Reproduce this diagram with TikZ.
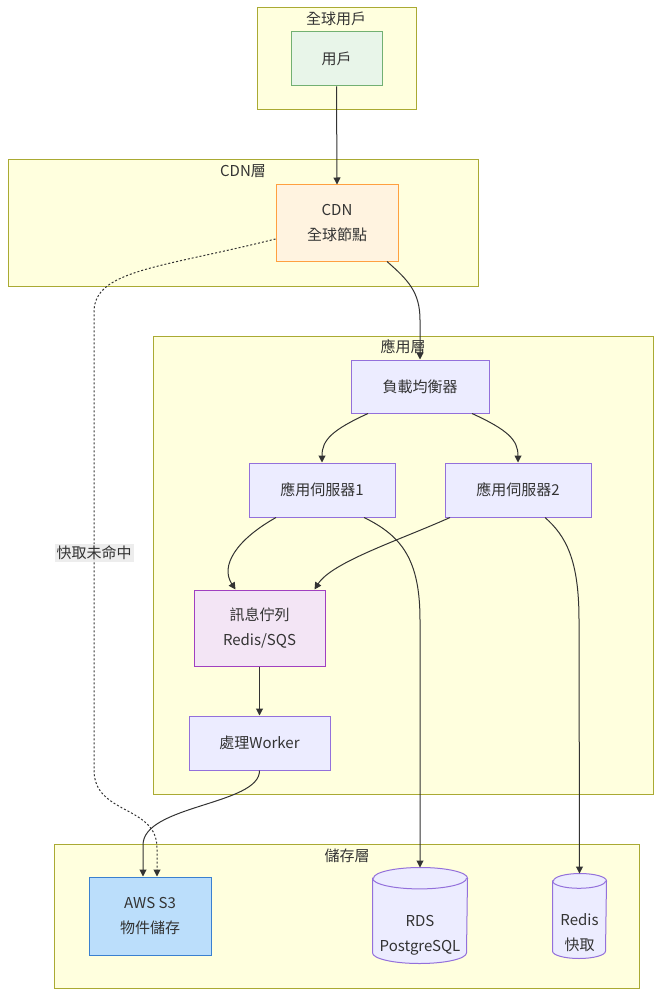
\documentclass[tikz,border=0pt]{standalone}
\usepackage{fontspec}
\setmainfont{Noto Sans CJK TC}
\usepackage{xcolor}
\usetikzlibrary{arrows.meta}

\definecolor{clusterfill}{HTML}{FFFFDE}
\definecolor{clusterline}{HTML}{AAAA33}
\definecolor{nodefill}{HTML}{ECECFF}
\definecolor{nodeline}{HTML}{9370DB}
\definecolor{txt}{HTML}{333333}
\definecolor{userfill}{HTML}{E8F5E9}
\definecolor{userline}{HTML}{72B072}
\definecolor{cdnfill}{HTML}{FFF3E0}
\definecolor{cdnline}{HTML}{FFA040}
\definecolor{mqfill}{HTML}{F3E5F5}
\definecolor{mqline}{HTML}{A040C0}
\definecolor{sthreefill}{HTML}{BBDEFB}
\definecolor{sthreeline}{HTML}{3A80D0}
\definecolor{labelfill}{HTML}{E8E8E8}

% cylinder outline round a named node: name, half width, ry
\newcommand{\dbdraw}[3]{%
  \filldraw[dbline] ([yshift=-#3pt]#1.north west) -- ([yshift=#3pt]#1.south west)
    arc[start angle=180, end angle=360, x radius=#2pt, y radius=#3pt]
    -- ([yshift=-#3pt]#1.north east)
    arc[start angle=0, end angle=180, x radius=#2pt, y radius=#3pt] -- cycle;
  \draw[dbline, fill=none] ([yshift=-#3pt]#1.north west)
    arc[start angle=180, end angle=360, x radius=#2pt, y radius=#3pt];
}

\begin{document}
\begin{tikzpicture}[x=1pt,y=-1pt,->,>={Triangle[length=7pt,width=7pt]},line width=1pt,txt]
  \tikzstyle{cluster}=[draw=clusterline,fill=clusterfill,line width=1pt,-]
  \tikzstyle{title}=[inner sep=0pt,text=txt,font=\fontsize{15}{18}\selectfont]
  \tikzstyle{box}=[rectangle,draw=nodeline,fill=nodefill,line width=1pt,inner sep=0pt,
    align=center,text=txt,font=\fontsize{15}{25}\selectfont]
  \tikzstyle{db}=[rectangle,draw=none,inner sep=0pt]
  \tikzstyle{dbline}=[draw=nodeline,fill=nodefill,line width=1pt,-]
  \tikzstyle{dbtxt}=[inner sep=0pt,align=center,text=txt,yshift=-10pt,
    font=\fontsize{15}{25}\selectfont]
  \tikzstyle{flow}=[draw=txt,line width=1pt]
  \tikzstyle{miss}=[draw=txt,line width=1pt,dash pattern=on 2pt off 2pt]
  \tikzstyle{edgelabel}=[fill=labelfill,fill opacity=0.8,text opacity=1,inner sep=2pt,
    text=txt,font=\fontsize{15}{18}\selectfont]

  \useasboundingbox (0,0) rectangle (669,1008);

  % clusters
  \draw[cluster] (257,8) rectangle (416,110);
  \draw[cluster] (8,160) rectangle (478,286);
  \draw[cluster] (153,336) rectangle (653,794);
  \draw[cluster] (54,844) rectangle (639,988);

  \node[title] (tglobal) at (336,19) {全球用戶};
  \node[title] (tcdn) at (243,171) {CDN層};
  \node[title] (tapp) at (403,347) {應用層};
  \node[title] (tstore) at (347,856) {儲存層};

  % nodes
  \node[box,fill=userfill,draw=userline,minimum width=91pt,minimum height=54pt] (user) at (336.5,59) {用戶};
  \node[box,fill=cdnfill,draw=cdnline,minimum width=122pt,minimum height=76pt] (cdn) at (337,223) {CDN\\全球節點};
  \node[box,minimum width=138pt,minimum height=53pt] (lb) at (420,386.5) {負載均衡器};
  \node[box,minimum width=146pt,minimum height=54pt] (app1) at (322,490) {應用伺服器1};
  \node[box,minimum width=146pt,minimum height=54pt] (app2) at (518,490) {應用伺服器2};
  \node[box,fill=mqfill,draw=mqline,minimum width=131pt,minimum height=76pt] (mq) at (259.5,628) {訊息佇列\\Redis/SQS};
  \node[box,minimum width=141pt,minimum height=54pt] (worker) at (259.5,743) {處理Worker};
  \node[box,fill=sthreefill,draw=sthreeline,minimum width=122pt,minimum height=78pt] (s3) at (150,916) {AWS S3\\物件儲存};
  \node[db,minimum width=94pt,minimum height=95pt] (rds) at (420,915.5) {};
  \node[db,minimum width=53pt,minimum height=84pt] (redis) at (579.5,916) {};
  \dbdraw{rds}{47}{10.7}
  \dbdraw{redis}{26.5}{7.4}
  \node[dbtxt] (rdstext) at ([yshift=-10pt]rds.center) {RDS\\PostgreSQL};
  \node[dbtxt] (redistext) at ([yshift=-7pt]redis.center) {Redis\\快取};

  % connectors
  \draw[flow] (user.south) -- (cdn.north);
  \draw[flow] ([xshift=50pt]cdn.south) .. controls (408,280) and (420,292) .. (420,320) -- (lb.north);
  \draw[flow] ([xshift=-52pt]lb.south) .. controls (332,430) and (322,440) .. (app1.north);
  \draw[flow] ([xshift=52pt]lb.south) .. controls (508,430) and (518,440) .. (app2.north);
  \draw[flow] ([xshift=-46pt]app1.south) .. controls (236,540) and (220,566) .. ([xshift=-24pt]mq.north);
  \draw[flow] ([xshift=-68pt]app2.south) .. controls (400,540) and (332,562) .. ([xshift=55pt]mq.north);
  \draw[flow] ([xshift=42pt]app1.south) .. controls (402,536) and (420,560) .. (420,620) -- (rds.north);
  \draw[flow] ([xshift=27pt]app2.south) .. controls (566,536) and (579,560) .. (579,620) -- (redis.north);
  \draw[flow] (mq.south) -- (worker.north);
  \draw[flow] (worker.south) .. controls (260,805) and (143,805) .. (143,845) -- ([xshift=-7pt]s3.north);

  \draw[miss] ([yshift=-16pt]cdn.west) .. controls (160,268) and (94,270) .. (94,312) -- (94,770)
    .. controls (94,815) and (157,805) .. (157,848) -- ([xshift=7pt]s3.north);
  \node[edgelabel] (misslabel) at (94,553) {快取未命中};

\end{tikzpicture}
\end{document}
